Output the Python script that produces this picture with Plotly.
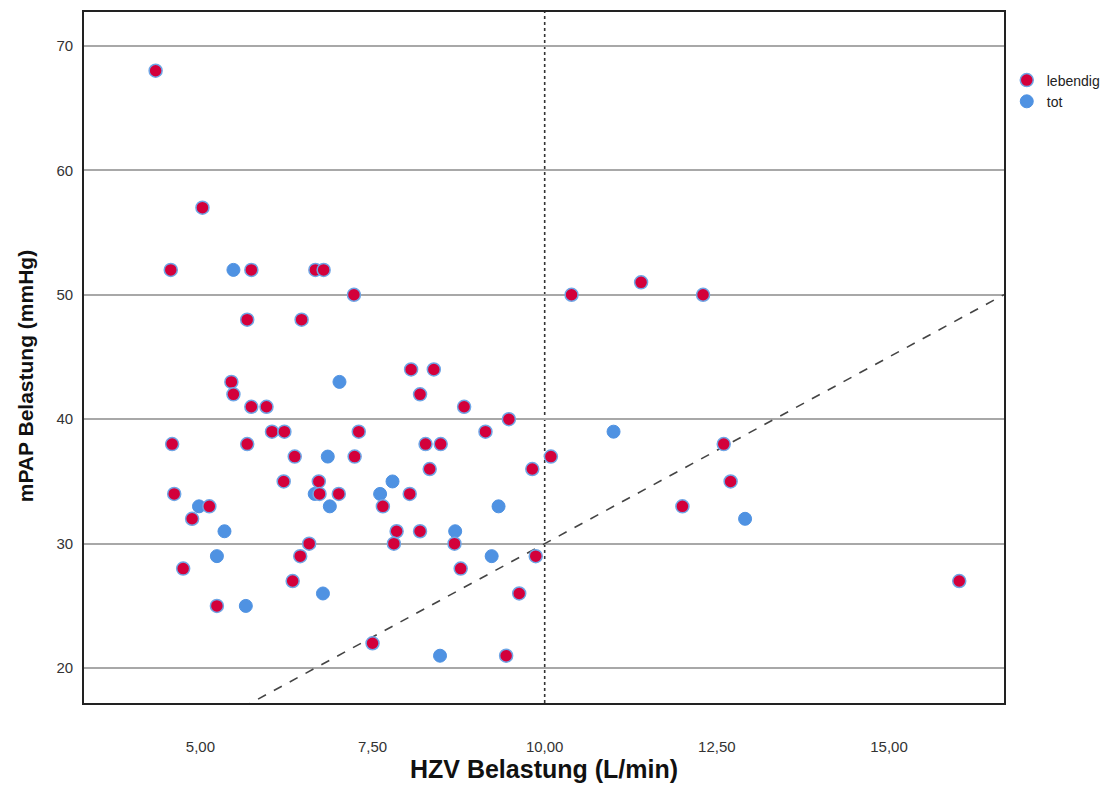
import plotly.graph_objects as go

# lebendig (alive)
alive_x = [4.35, 5.03, 4.57, 5.74, 6.67, 6.79, 7.23, 5.68, 6.47, 5.45, 5.48, 5.74, 5.96,
           4.59, 5.68, 6.04, 6.22, 7.30, 6.37, 7.24, 6.21, 6.72, 4.62, 6.73, 7.01, 5.13,
           4.88, 7.65, 7.85, 7.81, 6.58, 6.45, 4.75, 6.34, 5.24, 8.06, 8.39, 8.19, 8.83,
           9.48, 9.14, 8.27, 8.49, 10.09, 8.33, 9.82, 8.04, 8.19, 8.69, 9.87, 8.78, 9.63,
           9.44, 7.50, 10.39, 11.40, 12.30, 12.60, 12.70, 12.00, 16.02]
alive_y = [68, 57, 52, 52, 52, 52, 50, 48, 48, 43, 42, 41, 41,
           38, 38, 39, 39, 39, 37, 37, 35, 35, 34, 34, 34, 33,
           32, 33, 31, 30, 30, 29, 28, 27, 25, 44, 44, 42, 41,
           40, 39, 38, 38, 37, 36, 36, 34, 31, 30, 29, 28, 26,
           21, 22, 50, 51, 50, 38, 35, 33, 27]

# tot (dead)
dead_x = [5.48, 7.02, 6.85, 6.66, 6.88, 4.98, 5.35, 7.61, 7.79, 5.24, 6.78, 5.66,
          9.33, 8.70, 9.23, 8.48, 11.00, 12.91]
dead_y = [52, 43, 37, 34, 33, 33, 31, 34, 35, 29, 26, 25,
          33, 31, 29, 21, 39, 32]

x_ticks = [5.0, 7.5, 10.0, 12.5, 15.0]
y_ticks = [20, 30, 40, 50, 60, 70]
x_range = [3.31, 16.67]
y_range = [17.2, 72.72]
ref_x = 10.0
ref_y = 30.0
ratio = 3.0  # line mPAP = 3 * HZV

RED = "#D3003B"
BLUE = "#4F92E2"
FONT = "Liberation Sans, Arial, sans-serif"

fig = go.Figure()

fig.add_trace(go.Scatter(
    x=[x_range[0], x_range[1]], y=[ratio * x_range[0], ratio * x_range[1]],
    mode="lines", line=dict(color="#444444", width=1.6, dash="dash"),
    showlegend=False, hoverinfo="skip"))

fig.add_trace(go.Scatter(
    x=dead_x, y=dead_y, mode="markers", name="tot", legendrank=2,
    marker=dict(size=13, color=BLUE, line=dict(color=BLUE, width=1))))

fig.add_trace(go.Scatter(
    x=alive_x, y=alive_y, mode="markers", name="lebendig", legendrank=1,
    marker=dict(size=13, color=RED, line=dict(color="#6FA6E6", width=1.5))))

fig.add_hline(y=ref_y, line=dict(color="#111111", width=1.6, dash="dot"), layer="below")
fig.add_vline(x=ref_x, line=dict(color="#333333", width=1.6, dash="dot"), layer="below")

fig.add_annotation(
    text="mPAP Belastung (mmHg)", textangle=-90,
    xref="paper", yref="paper", x=-0.064, y=0.473,
    xanchor="center", yanchor="middle", showarrow=False,
    font=dict(family=FONT, size=21, color="#111111", weight="bold"))

fig.update_layout(
    width=1104, height=777,
    margin=dict(l=76, r=108, t=2, b=82),
    plot_bgcolor="white", paper_bgcolor="white",
    font=dict(family=FONT, size=15, color="#333333"),
    separators=",.",
    legend=dict(x=1.003, y=0.924, xanchor="left", yanchor="top",
                font=dict(family=FONT, size=14, color="#222222"),
                tracegroupgap=0, itemwidth=30, bgcolor="rgba(0,0,0,0)"),
    showlegend=True,
)

fig.update_xaxes(
    range=x_range, tickvals=x_ticks, tickformat=".2f",
    showgrid=False, zeroline=False,
    showline=True, mirror=True, linecolor="#222222", linewidth=1.6,
    ticks="", ticklabelstandoff=29,
    tickfont=dict(family=FONT, size=15, color="#333333"),
    title=dict(text="HZV Belastung (L/min)", standoff=4,
               font=dict(family=FONT, size=25, color="#111111", weight="bold")),
)
fig.update_yaxes(
    range=y_range, tickvals=y_ticks,
    showgrid=True, gridcolor="#A8A8A8", gridwidth=1.5, zeroline=False,
    showline=True, mirror=True, linecolor="#222222", linewidth=1.6,
    ticks="", ticklabelstandoff=6,
    tickfont=dict(family=FONT, size=15, color="#333333"),
)

fig.write_html("out.html")
